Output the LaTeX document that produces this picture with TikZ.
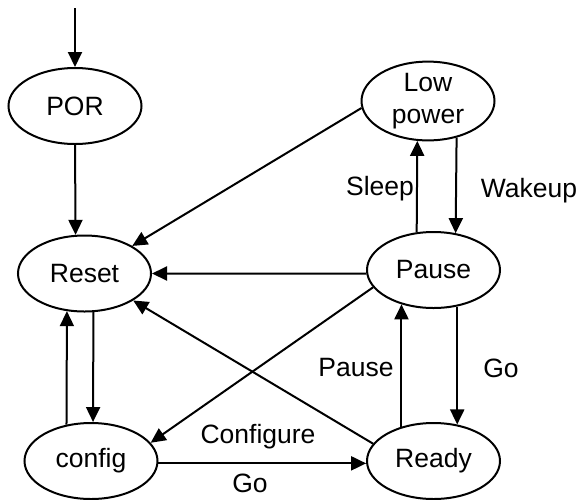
\documentclass[tikz,border=0pt]{standalone}
\usepackage{fontspec}
\setmainfont{Liberation Sans}
\usetikzlibrary{shapes.geometric,arrows.meta}
\begin{document}
\begin{tikzpicture}[x=1pt,y=-1pt,
  every node/.style={font=\fontsize{26.5}{32}\selectfont},
  state/.style={ellipse,draw,line width=2pt,inner sep=0pt,minimum width=133pt,minimum height=76pt,align=center},
  conn/.style={line width=2pt,-{Triangle[length=15pt,width=14pt]}},
  lbl/.style={anchor=base,inner sep=0pt}]
\useasboundingbox (0,0) rectangle (578,499);
\node[state] (por) at (75,106) {POR};
\node[state] (reset) at (84.5,273.5) {Reset};
\node[state] (config) at (91,461) {config};
\node[state] (ready) at (433.5,461) {Ready};
\node[state] (pause) at (433.5,270) {Pause};
\node[state] (low) at (428,101) {Low\\power};
\coordinate (start) at (75,8);
\draw[conn] (start) -- (por.north);
\draw[conn] (por.south) -- (reset.103);
\draw[conn] (config.124) -- (reset.245);
\draw[conn] (reset.-77.6) -- (config.87);
\draw[conn] (pause.114.2) -- (low.-105.9);
\draw[conn] (low.-52.9) -- (pause.59.2);
\draw[conn] (ready.133.2) -- (pause.-133.2);
\draw[conn] (pause.-57.9) -- (ready.57.9);
\draw[conn] (config.-2) -- (ready.-178);
\draw[conn] (pause.183) -- (reset.east);
\draw[conn] (low.-174.8) -- (reset.30.2);
\draw[conn] (ready.164.3) -- (reset.-29.3);
\draw[conn] (pause.-164.5) -- (config.17);
\node[lbl] (lsleep) at (380,195) {Sleep};
\node[lbl] (lwake) at (529,197) {Wakeup};
\node[lbl] (lpause) at (356,376) {Pause};
\node[lbl] (lgo) at (501,377) {Go};
\node[lbl] (lconf) at (258,443) {Configure};
\node[lbl] (lgo2) at (250,492) {Go};
\end{tikzpicture}
\end{document}
